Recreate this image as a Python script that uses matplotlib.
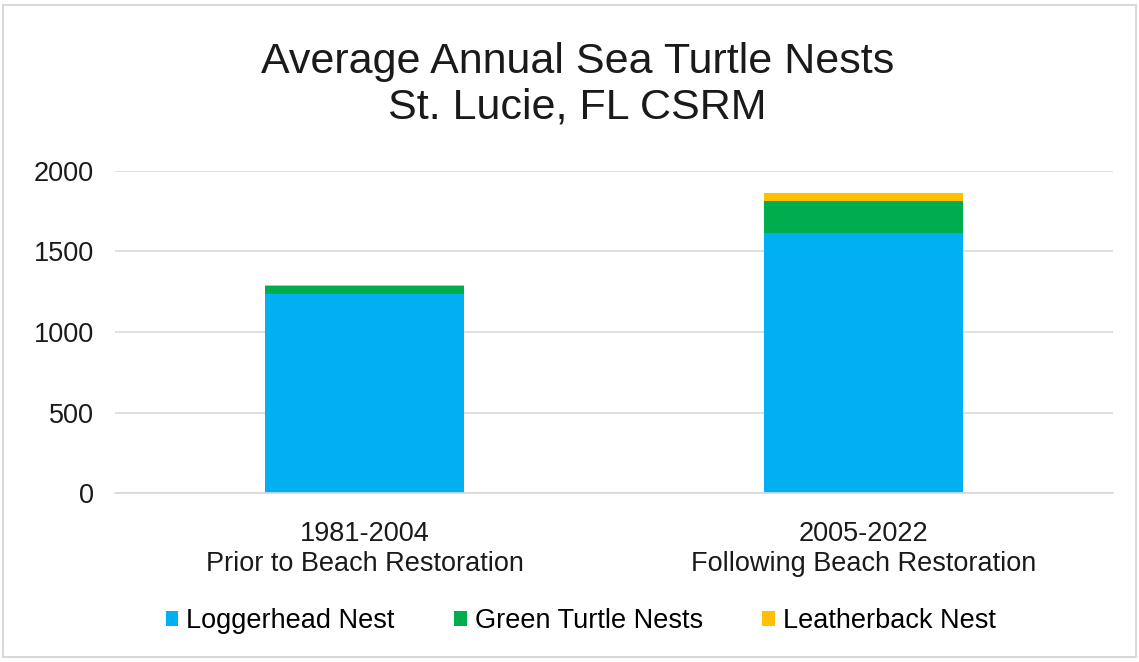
import matplotlib.pyplot as plt
import numpy as np
from matplotlib.patches import Rectangle

plt.rcParams['font.family'] = ['Liberation Sans', 'DejaVu Sans']

categories = ['1981-2004\nPrior to Beach Restoration', '2005-2022\nFollowing Beach Restoration']
loggerhead = [1236, 1613]
green = [50, 198]
leatherback = [6, 50]

fig = plt.figure(figsize=(11.39, 6.62), dpi=100)
ax = fig.add_axes([0.101, 0.255, 0.876, 0.487])

x = np.arange(len(categories))
w = 0.4
ax.bar(x, loggerhead, w, color='#00b0f0', label='Loggerhead Nest')
ax.bar(x, green, w, bottom=loggerhead, color='#00ad4e', label='Green Turtle Nests')
ax.bar(x, leatherback, w, bottom=np.add(loggerhead, green), color='#ffc000', label='Leatherback Nest')

ax.set_xlim(-0.5, 1.5)
ax.set_ylim(0, 2000)
ax.set_yticks([0, 500, 1000, 1500, 2000])
ax.set_xticks(x)
ax.set_xticklabels(categories, fontsize=19.5, color='#1a1a1a', linespacing=1.22)
ax.tick_params(axis='y', labelsize=19.5, length=0, pad=15, labelcolor='#1a1a1a')
ax.tick_params(axis='x', length=0, pad=20)
ax.grid(axis='y', color='#d9d9d9', linewidth=1.2)
ax.set_axisbelow(True)
for s in ['top', 'right', 'left']:
    ax.spines[s].set_visible(False)
ax.spines['bottom'].set_color('#d9d9d9')
ax.spines['bottom'].set_linewidth(1.2)

fig.text(0.507, 0.872, 'Average Annual Sea Turtle Nests\nSt. Lucie, FL CSRM', ha='center', va='center',
         fontsize=31, color='#1a1a1a', linespacing=1.2)

fig.legend(loc='center', bbox_to_anchor=(0.51, 0.062), ncol=3, frameon=False, fontsize=19.5,
           handlelength=0.45, handleheight=0.45, handletextpad=0.3, columnspacing=2.2)

fig.patches.append(Rectangle((0.003, 0.008), 0.994, 0.985, transform=fig.transFigure,
                             fill=False, edgecolor='#d9d9d9', linewidth=1.5))

fig.savefig('out.png', dpi=100)
